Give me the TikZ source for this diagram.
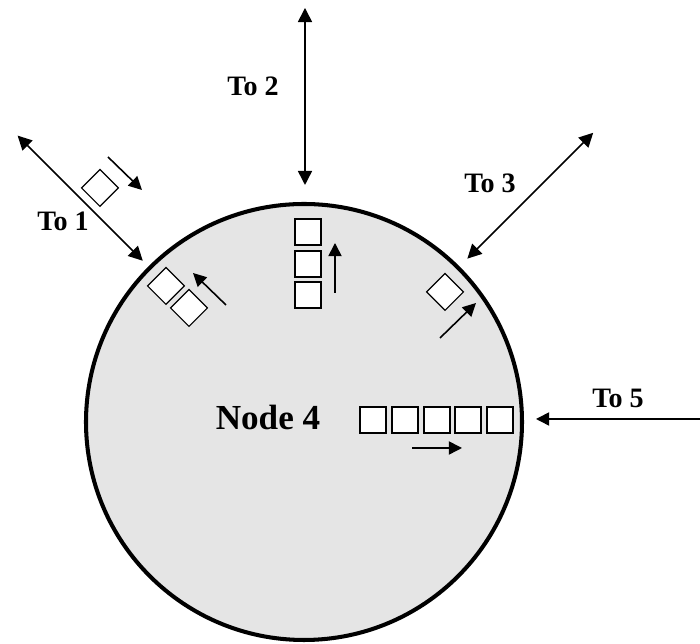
\documentclass[tikz,border=0pt]{standalone}
\usepackage{fontspec}
\setmainfont{Liberation Serif}
\usetikzlibrary{arrows.meta}

\tikzset{
  link/.style={{Triangle[length=8pt,width=8pt]}-{Triangle[length=8pt,width=8pt]}, line width=0.9pt},
  flow/.style={-{Triangle[length=7.5pt,width=7.5pt]}, line width=0.9pt},
  pkt/.style={draw, fill=white, line width=0.7pt, minimum size=0.52cm, inner sep=0pt},
  lbl/.style={font=\bfseries\fontsize{16}{19}\selectfont},
}

\begin{document}
\begin{tikzpicture}[x=0.02cm,y=0.02cm]
\useasboundingbox (-304,-222) rectangle (396,422);
% node 4
\draw[line width=2.3pt, fill=black!10] (0,0) circle (218);
\node[font=\bfseries\fontsize{20}{24}\selectfont] (n4) at (-36,5) {Node 4};

% links to the neighbours
\coordinate (o1) at (135:405); \coordinate (i1) at (135:228);
\coordinate (o2) at (1,414);   \coordinate (i2) at (1,237);
\coordinate (o3) at (45:409);  \coordinate (i3) at (45:231);
\coordinate (o5) at (396,3);   \coordinate (i5) at (232,3);
\draw[link] (o1) -- (i1);
\draw[link] (o2) -- (i2);
\draw[link] (o3) -- (i3);
\draw[flow] (o5) -- (i5);
\node[lbl] (t1) at (-241,201) {To 1};
\node[lbl] (t2) at (-51,336) {To 2};
\node[lbl] (t3) at (186,239) {To 3};
\node[lbl] (t5) at (314,24) {To 5};

% packet coming in from 1
\node[pkt, rotate=45] (p0) at (-204,234) {};
\coordinate (f0a) at (-196,265); \coordinate (f0b) at (-162,232);
\draw[flow] (f0a) -- (f0b);

% queue towards 1
\node[pkt, rotate=45] (q11) at (-138,136) {};
\node[pkt, rotate=45] (q12) at (-115,114) {};
\coordinate (f1a) at (-78,117); \coordinate (f1b) at (-111,149);
\draw[flow] (f1a) -- (f1b);

% queue towards 2
\node[pkt] (q21) at (4,190) {};
\node[pkt] (q22) at (4,158) {};
\node[pkt] (q23) at (4,127) {};
\coordinate (f2a) at (31,129); \coordinate (f2b) at (31,179);
\draw[flow] (f2a) -- (f2b);

% queue towards 3
\node[pkt, rotate=45] (q31) at (141,130) {};
\coordinate (f3a) at (136,84); \coordinate (f3b) at (172,119);
\draw[flow] (f3a) -- (f3b);

% queue from 5
\foreach \x/\k in {69/1,101/2,133/3,164/4,196/5}
  \node[pkt] (q5\k) at (\x,2) {};
\coordinate (f5a) at (108,-26); \coordinate (f5b) at (158,-26);
\draw[flow] (f5a) -- (f5b);
\end{tikzpicture}
\end{document}
